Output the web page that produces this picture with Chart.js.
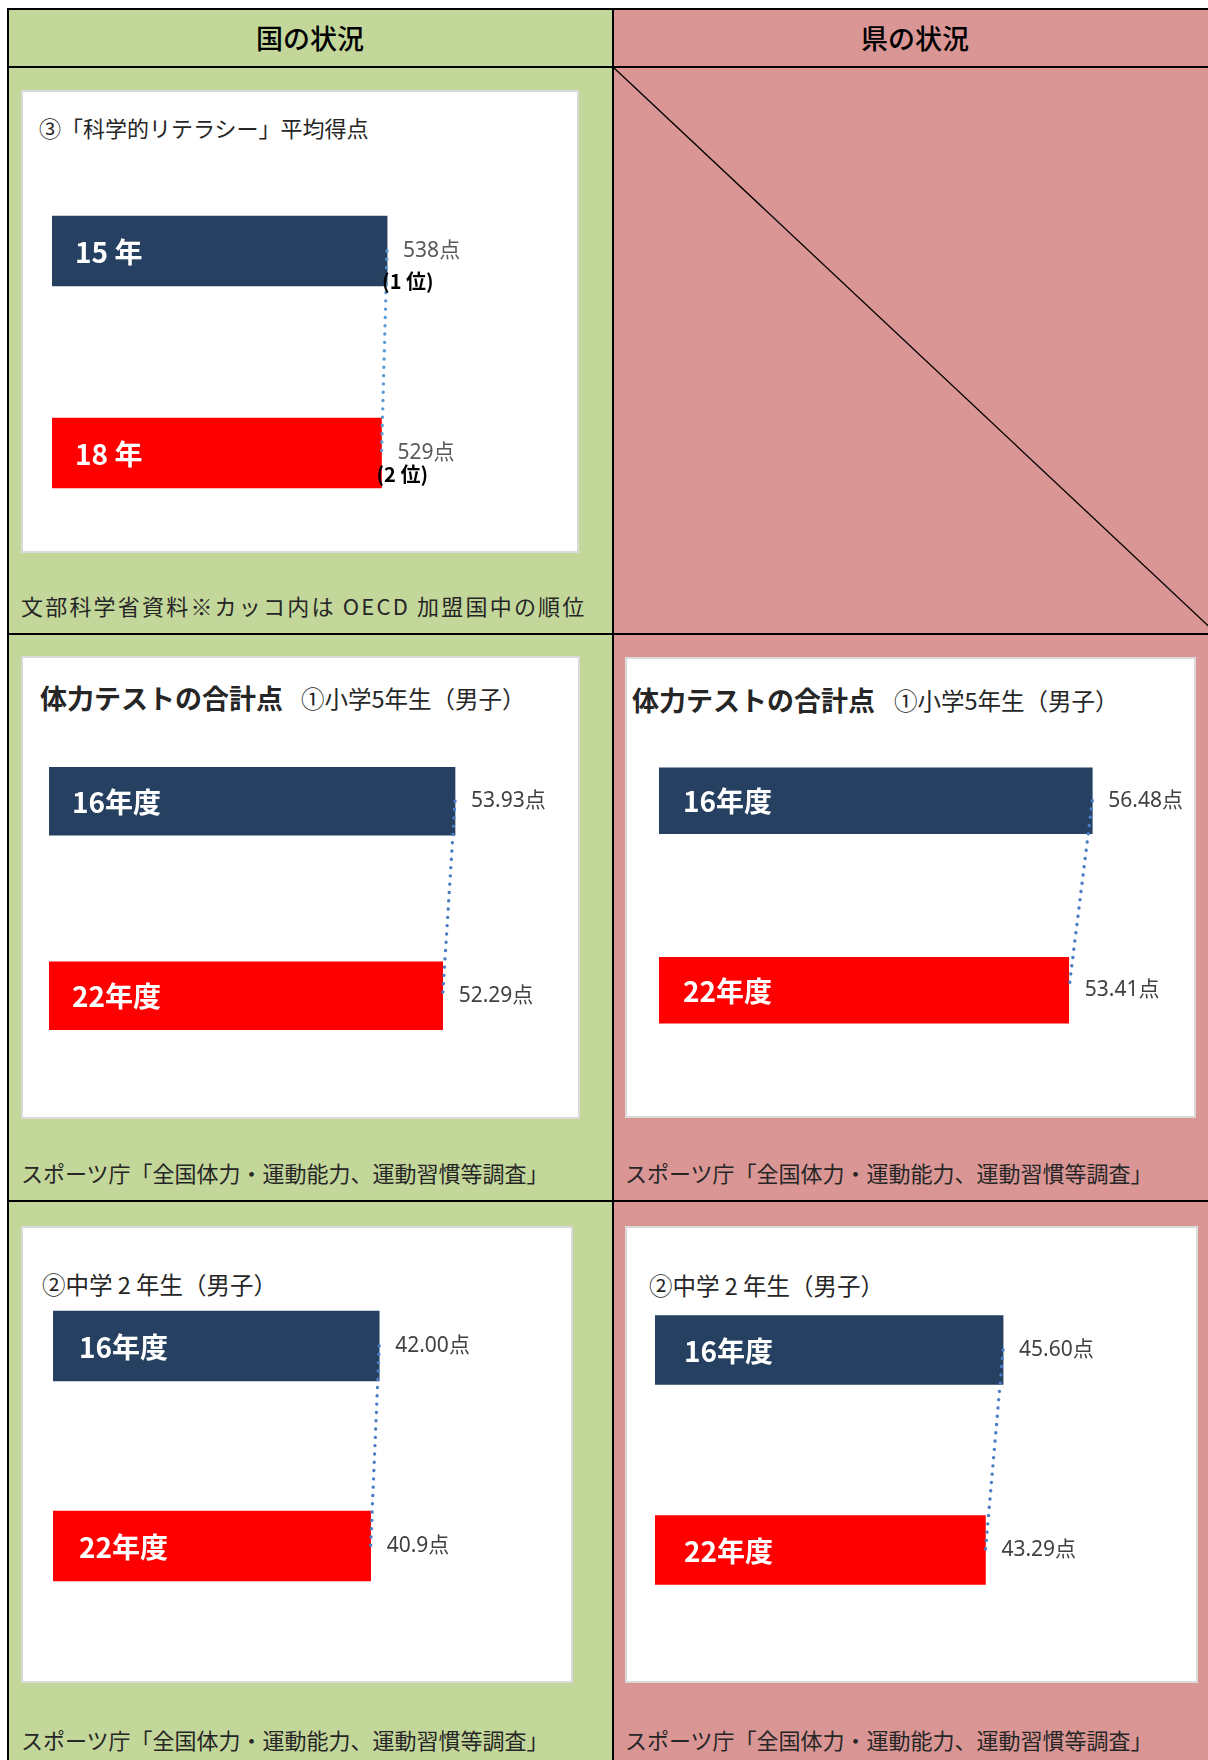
<!DOCTYPE html>
<html lang="ja">
<head>
<meta charset="utf-8">
<title>国と県の状況</title>
<script src="https://cdn.jsdelivr.net/npm/chart.js@4.4.1/dist/chart.umd.min.js"></script>
<style>
  body { margin: 0; background: #fff; }
  #page { position: relative; width: 1208px; height: 1760px; overflow: hidden; font-family: "Noto Sans CJK JP", "Noto Sans", sans-serif; }
  .abs { position: absolute; }
  .line { position: absolute; background: #000; }
  .box { position: absolute; background: #fff; border: 2px solid #d9d9d9; box-sizing: border-box; }
  .t { position: absolute; white-space: nowrap; height: 40px; line-height: 40px; color: #262626; }
  .head { font-size: 27px; font-weight: 500; color: #000; transform: translateX(-50%); }
  .title { font-size: 22px; }
  .title b { font-size: 27px; }
  .sub { font-size: 23.5px; }
  .src { font-size: 22px; }
  canvas { position: absolute; }
</style>
</head>
<body>
<div id="page">
  <!-- column fills -->
  <div class="abs" style="left:9px;top:10px;width:603px;height:1750px;background:#c4d79b"></div>
  <div class="abs" style="left:614px;top:10px;width:600px;height:1750px;background:#da9694"></div>

  <!-- table rules -->
  <div class="line" style="left:7px;top:8px;width:1210px;height:2px"></div>
  <div class="line" style="left:7px;top:66px;width:1210px;height:2px"></div>
  <div class="line" style="left:7px;top:633px;width:1210px;height:2px"></div>
  <div class="line" style="left:7px;top:1200px;width:1210px;height:2px"></div>
  <div class="line" style="left:7px;top:8px;width:2px;height:1752px"></div>
  <div class="line" style="left:612px;top:8px;width:2px;height:1752px"></div>

  <!-- empty cell: diagonal -->
  <svg class="abs" style="left:0;top:0" width="1208" height="640">
    <line x1="613" y1="67" x2="1217" y2="634" stroke="#000" stroke-width="1.3"/>
  </svg>

  <div class="t head" style="left:310px;top:18px">国の状況</div>
  <div class="t head" style="left:915px;top:18px">県の状況</div>

  <!-- row 1 -->
  <div class="box" style="left:21px;top:90px;width:558px;height:463px"></div>
  <div class="t title" style="left:39px;top:107px">③「科学的リテラシー」平均得点</div>
  <div class="t src" style="left:21px;top:585px;letter-spacing:2.2px">文部科学省資料※カッコ内は OECD 加盟国中の順位</div>

  <!-- row 2 -->
  <div class="box" style="left:21px;top:656px;width:559px;height:463px"></div>
  <div class="t title" style="left:40px;top:678px"><b>体力テストの合計点</b></div>
  <div class="t sub" style="left:301px;top:678px">①小学5年生（男子）</div>
  <div class="t src" style="left:21px;top:1152px">スポーツ庁「全国体力・運動能力、運動習慣等調査」</div>

  <div class="box" style="left:625px;top:657px;width:571px;height:461px"></div>
  <div class="t title" style="left:632px;top:680px"><b>体力テストの合計点</b></div>
  <div class="t sub" style="left:894px;top:680px">①小学5年生（男子）</div>
  <div class="t src" style="left:625px;top:1152px">スポーツ庁「全国体力・運動能力、運動習慣等調査」</div>

  <!-- row 3 -->
  <div class="box" style="left:21px;top:1226px;width:552px;height:457px"></div>
  <div class="t sub" style="left:42px;top:1264px">②中学 2 年生（男子）</div>
  <div class="t src" style="left:21px;top:1719px">スポーツ庁「全国体力・運動能力、運動習慣等調査」</div>

  <div class="box" style="left:625px;top:1226px;width:573px;height:457px"></div>
  <div class="t sub" style="left:649px;top:1265px">②中学 2 年生（男子）</div>
  <div class="t src" style="left:625px;top:1719px">スポーツ庁「全国体力・運動能力、運動習慣等調査」</div>

  <canvas id="cSci"></canvas>
  <canvas id="cPe5Nat"></canvas>
  <canvas id="cPe5Pref"></canvas>
  <canvas id="cPe8Nat"></canvas>
  <canvas id="cPe8Pref"></canvas>
</div>

<script>
// data
const sciYears = ["15 年", "18 年"];
const sciScores = [538, 529];
const sciScoreLabels = ["538点", "529点"];
const sciRanks = ["(1 位)", "(2 位)"];

const peYears = ["16年度", "22年度"];
const pe5National = [53.93, 52.29];
const pe5NationalLabels = ["53.93点", "52.29点"];
const pe5Pref = [56.48, 53.41];
const pe5PrefLabels = ["56.48点", "53.41点"];
const pe8National = [42.00, 40.9];
const pe8NationalLabels = ["42.00点", "40.9点"];
const pe8Pref = [45.60, 43.29];
const pe8PrefLabels = ["45.60点", "43.29点"];

const barColors = ["#264061", "#ff0000"];

// names inside the bars, scores to the right
const barText = {
  id: "barText",
  afterDatasetsDraw(chart, args, opts) {
    const ctx = chart.ctx;
    const bars = chart.getDatasetMeta(1).data;
    ctx.save();
    ctx.textBaseline = "middle";
    ctx.textAlign = "left";
    bars.forEach(function(bar, i) {
      ctx.font = 'bold 28px "Noto Sans CJK JP"';
      ctx.fillStyle = "#fff";
      ctx.fillText(chart.data.labels[i], bar.base + opts.nameOffset, bar.y + 1);

      ctx.font = '21px "Noto Sans", "Noto Sans CJK JP"';
      ctx.fillStyle = opts.valueColor;
      ctx.fillText(opts.values[i], bar.x + 16, bar.y);

      if (opts.ranks) {
        ctx.font = 'bold 20px "Noto Sans CJK JP"';
        ctx.fillStyle = "#000";
        ctx.fillText(opts.ranks[i], bar.x - 5, bar.y + opts.rankOffset[i]);
      }
    });
    ctx.restore();
  }
};

function makeChart(id, box, labels, values, valueLabels, ranks) {
  const canvas = document.getElementById(id);
  canvas.width = box.width;
  canvas.height = box.height;
  canvas.style.left = box.left + "px";
  canvas.style.top = box.top + "px";

  return new Chart(canvas, {
    type: "bar",
    data: {
      labels: labels,
      datasets: [
        {
          type: "line",
          indexAxis: "y",
          data: values,
          borderColor: box.dotColor || "#4a7ec4",
          borderWidth: 3.4,
          borderDash: [0.01, 8.3],
          borderCapStyle: "round",
          pointRadius: 0,
          fill: false,
          order: 0
        },
        {
          type: "bar",
          indexAxis: "y",
          data: values,
          backgroundColor: barColors,
          barThickness: box.thick,
          order: 1
        }
      ]
    },
    options: {
      indexAxis: "y",
      responsive: false,
      animation: false,
      layout: { padding: 0 },
      scales: {
        x: { type: "linear", min: 0, max: box.max, display: false, grid: { display: false } },
        y: { type: "category", offset: true, display: false, grid: { display: false } }
      },
      plugins: {
        legend: { display: false },
        tooltip: { enabled: false },
        barText: {
          values: valueLabels,
          ranks: ranks,
          rankOffset: [30, 21],
          nameOffset: box.nameOffset,
          valueColor: box.valueColor || "#404040"
        }
      }
    },
    plugins: [barText]
  });
}

makeChart("cSci", { left: 52, top: 150, width: 436, height: 404, max: 700, thick: 70, nameOffset: 23, dotColor: "#5b9bd5", valueColor: "#595959" },
  sciYears, sciScores, sciScoreLabels, sciRanks);
makeChart("cPe5Nat", { left: 49, top: 704, width: 527, height: 389, max: 70, thick: 68, nameOffset: 23 },
  peYears, pe5National, pe5NationalLabels, null);
makeChart("cPe5Pref", { left: 659, top: 706, width: 537, height: 379, max: 70, thick: 66, nameOffset: 24 },
  peYears, pe5Pref, pe5PrefLabels, null);
makeChart("cPe8Nat", { left: 53, top: 1246, width: 466, height: 400, max: 60, thick: 70, nameOffset: 26 },
  peYears, pe8National, pe8NationalLabels, null);
makeChart("cPe8Pref", { left: 655, top: 1250, width: 458, height: 400, max: 60, thick: 69, nameOffset: 29 },
  peYears, pe8Pref, pe8PrefLabels, null);
</script>
</body>
</html>
